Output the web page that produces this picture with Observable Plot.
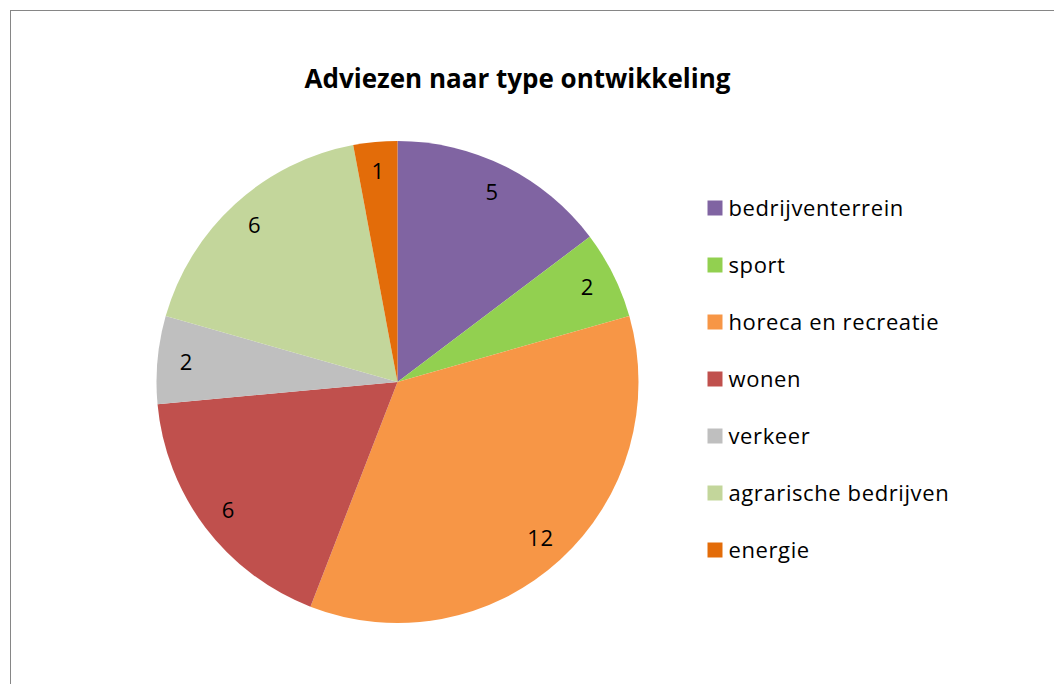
<!DOCTYPE html>
<html><head><meta charset="utf-8">
<script src="https://cdn.jsdelivr.net/npm/d3@7"></script>
<script src="https://cdn.jsdelivr.net/npm/@observablehq/plot@0.6"></script>
<style>
html,body{margin:0;padding:0;background:#fff;overflow:hidden;width:1054px;height:684px}
#border{position:absolute;left:10px;top:10px;width:1100px;height:720px;border:1px solid #868686;box-sizing:border-box}
#chart{position:absolute;left:0;top:0}
</style></head><body><div id="border"></div><div id="chart"></div>
<script>
const title = "Adviezen naar type ontwikkeling";
const categories = ["bedrijventerrein","sport","horeca en recreatie","wonen","verkeer","agrarische bedrijven","energie"];
const values = [5,2,12,6,2,6,1];
const colors = ["#8064A2","#92D050","#F79646","#C0504D","#BFBFBF","#C3D69B","#E36C09"];

const data = categories.map((c,i)=>({category:c, value:values[i]}));
const arcs = d3.pie().sort(null).value(d=>d.value)(data);
const W = 1054, H = 684;
const cx = 397.5, cy = 382, R = 241;
const FONT = "'Open Sans', sans-serif";

function pieMark(index, scales, vals, dims, context) {
  const g = d3.create("svg:g").attr("transform", `translate(${cx},${cy})`);
  const arc = d3.arc().innerRadius(0).outerRadius(R);
  g.append("g").selectAll("path").data(arcs).join("path")
    .attr("d", arc)
    .attr("fill", d => scales.color(d.data.category));
  const la = d3.arc().innerRadius(R*0.88).outerRadius(R*0.88);
  g.append("g").selectAll("text").data(arcs).join("text")
    .attr("transform", d => `translate(${la.centroid(d)})`)
    .attr("text-anchor","middle").attr("dy","0.35em")
    .attr("font-family", FONT).attr("font-size", 22).attr("letter-spacing", "0.5px").attr("fill","#000")
    .text(d => d.data.value);
  return g.node();
}

const chart = Plot.plot({
  width: W, height: H, margin: 0,
  style: {background: "transparent", fontFamily: FONT},
  x: {domain: [0, W], range: [0, W], axis: null},
  y: {type: "band", domain: categories, range: [178, 578], padding: 0, axis: null},
  color: {domain: categories, range: colors},
  marks: [
    pieMark,
    Plot.dot(data, {x: () => 714.5, y: "category", fill: "category", symbol: "square", r: 15/Math.sqrt(Math.PI), stroke: null}),
    Plot.text(data, {x: () => 728, y: "category", text: "category", textAnchor: "start", fontSize: 22, fill: "#000", dy: 1,
      render: (i, s, v, d, c, next) => { const g = next(i, s, v, d, c); g.setAttribute("letter-spacing", "0.6px"); return g; }}),
    Plot.text([title], {frameAnchor: "top", dx: -10, dy: 79, lineAnchor: "middle", fontSize: 26, fontWeight: "bold", fill: "#000"})
  ]
});
document.getElementById("chart").appendChild(chart);
</script></body></html>
